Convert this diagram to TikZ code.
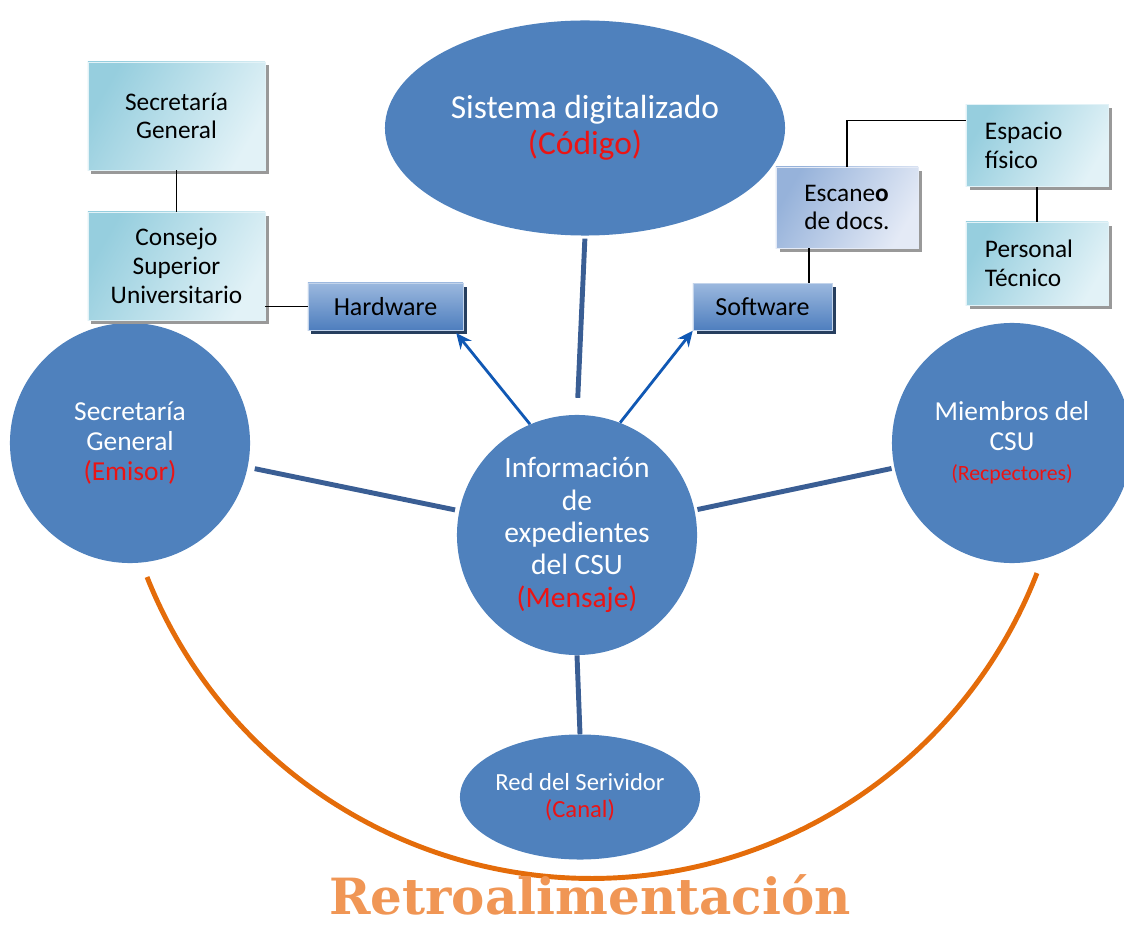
\documentclass[tikz,border=0pt]{standalone}
\usepackage{fontspec}
\setmainfont{Carlito}
\newfontfamily\retrofont{DejaVu Serif}
\usetikzlibrary{shapes.geometric,shadows,arrows.meta}

\definecolor{csuBlue}{RGB}{79,129,189}
\definecolor{linkBlue}{RGB}{58,94,148}
\definecolor{arrowBlue}{RGB}{16,88,180}
\definecolor{labelRed}{RGB}{235,20,20}
\definecolor{retroOrange}{RGB}{228,108,10}
\definecolor{retroText}{RGB}{240,150,85}
\definecolor{cyanDark}{RGB}{150,206,222}
\definecolor{cyanLight}{RGB}{226,242,247}
\definecolor{hwTop}{RGB}{155,184,222}
\definecolor{hwBottom}{RGB}{78,126,190}
\definecolor{scanDark}{RGB}{150,178,218}
\definecolor{scanLight}{RGB}{228,234,246}

\begin{document}
\begin{tikzpicture}[
  x=0.025cm, y=-0.025cm,
  every node/.style={align=center},
  bubble/.style={circle,fill=csuBlue,text=white,minimum size=6cm,inner sep=0pt,font=\fontsize{19.5}{21.5}\selectfont},
  oval/.style={ellipse,fill=csuBlue,text=white,inner sep=0pt},
  orgBox/.style={rectangle,draw=cyanLight,thin,left color=cyanDark,right color=cyanLight,shading angle=60,
    minimum width=4.425cm,minimum height=2.7cm,font=\fontsize{18}{20.5}\selectfont,
    drop shadow={shadow xshift=2.5pt,shadow yshift=-2.5pt,fill=gray!80,opacity=1}},
  staffBox/.style={orgBox,minimum width=3.55cm,minimum height=2.05cm,text width=2.6cm,align=left},
  toolBox/.style={rectangle,draw=hwTop!60!white,thin,top color=hwTop,bottom color=hwBottom,
    minimum width=3.875cm,minimum height=1.175cm,font=\fontsize{18.5}{20}\selectfont,
    drop shadow={shadow xshift=2.5pt,shadow yshift=-2.5pt,fill=hwBottom!50!black,opacity=1}},
  scanBox/.style={rectangle,draw=scanLight,thin,left color=scanDark,right color=scanLight,shading angle=60,
    minimum width=3.55cm,minimum height=2.025cm,font=\fontsize{18}{20.5}\selectfont,
    drop shadow={shadow xshift=2.5pt,shadow yshift=-2.5pt,fill=gray!80,opacity=1}},
  blueLink/.style={draw=linkBlue,line width=3.5pt},
  blueArrow/.style={-{Stealth[length=11pt,width=10pt]},line width=2pt,arrowBlue},
  orgLink/.style={draw=black,line width=0.9pt},
  feedback/.style={draw=retroOrange,line width=3.5pt}]

  \useasboundingbox (0,0) rectangle (1124,925);

  % communication model
  \node[oval,minimum width=10cm,minimum height=5.375cm,font=\fontsize{23.8}{25.5}\selectfont] (code) at (585,128)
    {Sistema digitalizado\\\textcolor{labelRed}{(Código)}};
  \node[bubble,font=\fontsize{21}{23}\selectfont] (msg) at (577,535)
    {Información\\de\\expedientes\\del CSU\\\textcolor{labelRed}{(Mensaje)}};
  \node[bubble] (sender) at (130,443) {Secretaría\\General\\\textcolor{labelRed}{(Emisor)}};
  \node[bubble] (receiver) at (1012,443)
    {Miembros del\\CSU\\{\fontsize{15.5}{19}\selectfont\textcolor{labelRed}{(Recpectores)}}};
  \node[oval,minimum width=6cm,minimum height=3.125cm,font=\fontsize{17.5}{19.5}\selectfont] (channel) at (580,797)
    {Red del Serividor\\\textcolor{labelRed}{(Canal)}};

  % hardware side
  \node[orgBox] (secBox) at (176.5,116) {Secretaría\\General};
  \node[orgBox] (council) at (176.5,266) {Consejo\\Superior\\Universitario};
  \node[toolBox] (hw) at (385.5,306.5) {Hardware};

  % software side
  \node[toolBox,minimum width=3.475cm] (sw) at (762.5,307) {Software};
  \node[scanBox,align=left] (scan) at (847,207.5) {Escane\textbf{o}\\de docs.};
  \node[staffBox] (space) at (1037,145.5) {Espacio\\físico};
  \node[staffBox,minimum height=2.075cm] (staff) at (1037,263.5) {Personal\\Técnico};

  % links to the message
  \draw[blueLink,shorten <=2pt,shorten >=12pt] (code.south) -- (msg.north);
  \draw[blueLink,shorten <=5pt,shorten >=3pt] (sender) -- (msg);
  \draw[blueLink,shorten <=2pt,shorten >=2pt] (receiver) -- (msg);
  \draw[blueLink] (msg.south) -- (channel.north);

  % arrows to the tools
  \draw[blueArrow] (msg.113) -- ([xshift=-5pt,yshift=-2pt]hw.south east);
  \draw[blueArrow] (msg.69) -- (sw.south west);

  % org lines
  \draw[orgLink] (secBox.south) -- (council.north);
  \draw[orgLink] (hw.west) -- (hw.west -| council.east);
  \coordinate (scanFoot) at ([xshift=-0.95cm]scan.south);
  \draw[orgLink] (scanFoot) -- (scanFoot |- sw.north);
  \draw[orgLink] (scan.north) |- ([yshift=0.625cm]space.west);
  \draw[orgLink] (space.south) -- (staff.north);

  % feedback
  \coordinate (arcStart) at (147,577);
  \draw[feedback] (arcStart) arc[start angle=201.7,end angle=338.8,radius=11.95cm];
  \node[text=retroText,inner sep=0pt,font=\retrofont\bfseries\fontsize{35.5}{35.5}\selectfont] (retro) at (590,895)
    {Retroalimentación};
\end{tikzpicture}
\end{document}
